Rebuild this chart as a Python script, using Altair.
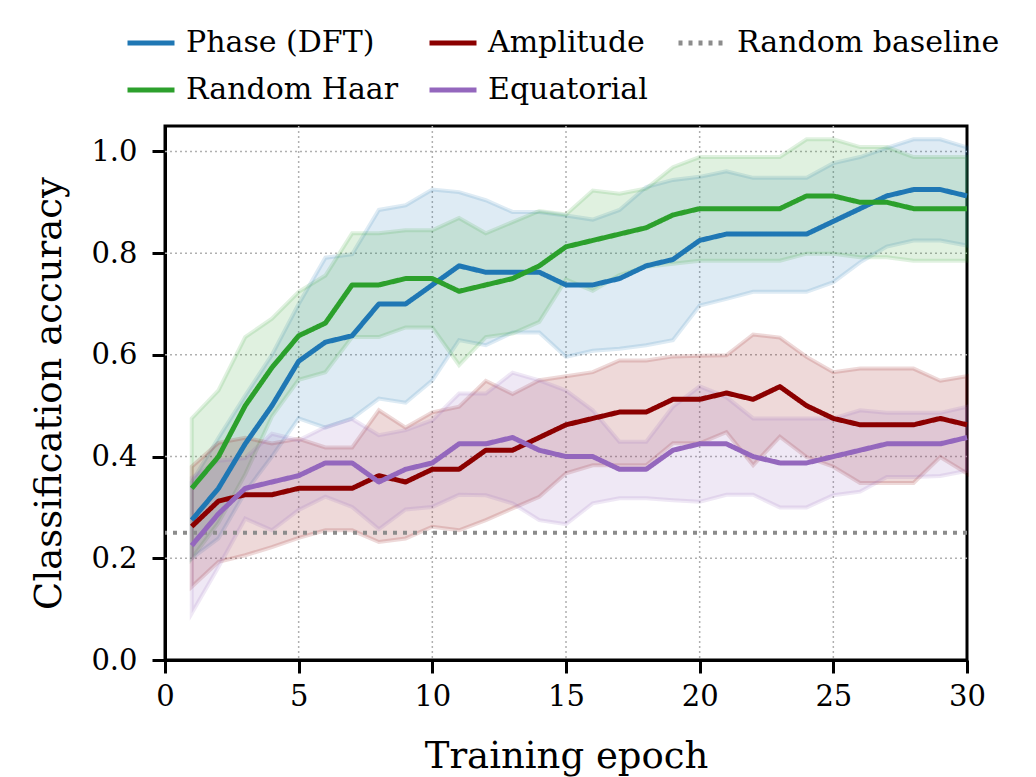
import altair as alt
import pandas as pd

# Training curves: mean accuracy per epoch with the lower/upper edge of the spread band
epochs = list(range(1, 31))

phase_mean = [0.275, 0.3375, 0.425, 0.5, 0.5875, 0.625, 0.6375, 0.7, 0.7, 0.7375,
              0.775, 0.7625, 0.7625, 0.7625, 0.7375, 0.7375, 0.75, 0.775, 0.7875, 0.825,
              0.8375, 0.8375, 0.8375, 0.8375, 0.8625, 0.8875, 0.9125, 0.925, 0.925, 0.9125]
phase_lo = [0.20, 0.239, 0.33, 0.40, 0.475, 0.457, 0.475, 0.514, 0.506, 0.55,
            0.629, 0.619, 0.644, 0.644, 0.596, 0.608, 0.612, 0.619, 0.629, 0.697,
            0.71, 0.724, 0.724, 0.724, 0.743, 0.782, 0.813, 0.825, 0.825, 0.815]
phase_hi = [0.35, 0.437, 0.52, 0.60, 0.70, 0.791, 0.798, 0.885, 0.894, 0.925,
            0.92, 0.904, 0.881, 0.881, 0.874, 0.866, 0.885, 0.93, 0.944, 0.95,
            0.961, 0.948, 0.948, 0.948, 0.977, 0.989, 1.007, 1.024, 1.024, 1.008]

haar_mean = [0.3375, 0.4, 0.5, 0.575, 0.6375, 0.6625, 0.7375, 0.7375, 0.75, 0.75,
             0.725, 0.7375, 0.75, 0.775, 0.8125, 0.825, 0.8375, 0.85, 0.875, 0.8875,
             0.8875, 0.8875, 0.8875, 0.9125, 0.9125, 0.9, 0.9, 0.8875, 0.8875, 0.8875]
haar_lo = [0.2, 0.27, 0.365, 0.479, 0.551, 0.566, 0.635, 0.635, 0.654, 0.654,
           0.58, 0.635, 0.642, 0.665, 0.748, 0.726, 0.757, 0.773, 0.779, 0.785,
           0.785, 0.785, 0.785, 0.799, 0.799, 0.792, 0.792, 0.785, 0.785, 0.785]
haar_hi = [0.475, 0.53, 0.635, 0.671, 0.724, 0.756, 0.839, 0.839, 0.845, 0.845,
           0.869, 0.839, 0.861, 0.883, 0.876, 0.923, 0.917, 0.927, 0.969, 0.989,
           0.989, 0.989, 0.989, 1.024, 1.024, 1.0085, 1.0085, 0.989, 0.989, 0.989]

amp_mean = [0.2625, 0.3125, 0.325, 0.325, 0.3375, 0.3375, 0.3375, 0.3625, 0.35, 0.375,
            0.375, 0.4125, 0.4125, 0.4375, 0.4625, 0.475, 0.4875, 0.4875, 0.5125, 0.5125,
            0.525, 0.5125, 0.5375, 0.5, 0.475, 0.4625, 0.4625, 0.4625, 0.475, 0.4625]
amp_lo = [0.144, 0.193, 0.206, 0.222, 0.24, 0.255, 0.255, 0.232, 0.239, 0.262,
          0.255, 0.275, 0.298, 0.321, 0.367, 0.383, 0.383, 0.383, 0.426, 0.426,
          0.448, 0.383, 0.439, 0.399, 0.38, 0.348, 0.348, 0.348, 0.399, 0.367]
amp_hi = [0.38, 0.427, 0.437, 0.426, 0.435, 0.418, 0.418, 0.491, 0.457, 0.487,
          0.498, 0.549, 0.523, 0.55, 0.558, 0.566, 0.589, 0.589, 0.597, 0.598,
          0.599, 0.64, 0.634, 0.596, 0.566, 0.573, 0.573, 0.573, 0.549, 0.558]

equ_mean = [0.225, 0.2875, 0.3375, 0.35, 0.3625, 0.3875, 0.3875, 0.35, 0.375, 0.3875,
            0.425, 0.425, 0.4375, 0.4125, 0.4, 0.4, 0.375, 0.375, 0.4125, 0.425,
            0.425, 0.4, 0.3875, 0.3875, 0.4, 0.4125, 0.425, 0.425, 0.425, 0.4375]
equ_lo = [0.092, 0.183, 0.278, 0.255, 0.295, 0.321, 0.301, 0.257, 0.296, 0.301,
          0.325, 0.324, 0.308, 0.275, 0.267, 0.308, 0.318, 0.318, 0.314, 0.311,
          0.325, 0.325, 0.3, 0.3, 0.324, 0.331, 0.36, 0.36, 0.362, 0.372]
equ_hi = [0.358, 0.392, 0.397, 0.445, 0.432, 0.458, 0.474, 0.442, 0.452, 0.4715,
          0.524, 0.524, 0.565, 0.55, 0.53, 0.491, 0.429, 0.429, 0.498, 0.538,
          0.517, 0.475, 0.475, 0.475, 0.475, 0.491, 0.486, 0.486, 0.486, 0.498]

baseline_acc = 0.25

x_ticks = [0, 5, 10, 15, 20, 25, 30]
y_ticks = [0.0, 0.2, 0.4, 0.6, 0.8, 1.0]

series_names = ["Phase (DFT)", "Amplitude", "Random baseline", "Random Haar", "Equatorial"]
series_colors = ["#1f77b4", "#8b0000", "#8c8c8c", "#2ca02c", "#9467bd"]
series_dashes = [[1, 0], [1, 0], [4, 6], [1, 0], [1, 0]]
color_of = dict(zip(series_names, series_colors))

curves = [
    ("Phase (DFT)", phase_mean, phase_lo, phase_hi),
    ("Random Haar", haar_mean, haar_lo, haar_hi),
    ("Amplitude", amp_mean, amp_lo, amp_hi),
    ("Equatorial", equ_mean, equ_lo, equ_hi),
]

frames = {}
for name, mean, lo, hi in curves:
    frames[name] = pd.DataFrame(
        {"series": name, "epoch": epochs, "acc": mean, "lo": lo, "hi": hi}
    )
df = pd.concat(frames.values(), ignore_index=True)
base_df = pd.DataFrame({"series": ["Random baseline"], "acc": [baseline_acc]})

FONT = "DejaVu Serif"
GRID_COLOR = "#b0b0b0"

x_scale = alt.Scale(domain=[0, 30], nice=False, zero=False)
y_scale = alt.Scale(domain=[0, 1.05], nice=False)
x_axis = alt.Axis(values=x_ticks, title="Training epoch")
y_axis = alt.Axis(values=y_ticks, format=".1f", title="Classification accuracy")
x_enc = alt.X("epoch:Q", scale=x_scale, axis=x_axis)

color_scale = alt.Scale(domain=series_names, range=series_colors)
dash_scale = alt.Scale(domain=series_names, range=series_dashes)

legend = alt.Legend(
    title=None,
    orient="none",
    legendX=-40,
    legendY=-109,
    direction="horizontal",
    columns=3,
    symbolType="stroke",
    symbolSize=2209,
    symbolStrokeWidth=5,
    labelFont=FONT,
    labelFontSize=30,
    labelColor="black",
    labelLimit=500,
    labelOffset=9,
    columnPadding=20,
    rowPadding=6,
    padding=0,
)

# interior dotted grid lines at the tick positions (the frame covers the outer ones)
x_grid = alt.Chart(pd.DataFrame({"epoch": x_ticks[1:-1]})).mark_rule(
    color=GRID_COLOR, strokeDash=[2, 3], strokeWidth=1.5
).encode(x=x_enc)
y_grid = alt.Chart(pd.DataFrame({"acc": y_ticks[1:]})).mark_rule(
    color=GRID_COLOR, strokeDash=[2, 3], strokeWidth=1.5
).encode(y=alt.Y("acc:Q", scale=y_scale, axis=y_axis))

# one shaded spread band per method, each in its own colour
bands = [
    alt.Chart(frames[name]).mark_area(
        fill=color_of[name], stroke=color_of[name],
        fillOpacity=0.15, strokeOpacity=0.15, strokeWidth=4,
    ).encode(
        x=x_enc,
        y=alt.Y("lo:Q", scale=y_scale, axis=y_axis),
        y2="hi:Q",
    )
    for name, _, _, _ in curves
]

lines = alt.Chart(df).mark_line(strokeWidth=5, strokeJoin="round").encode(
    x=x_enc,
    y=alt.Y("acc:Q", scale=y_scale, axis=y_axis),
    color=alt.Color("series:N", scale=color_scale, legend=legend),
    strokeDash=alt.StrokeDash("series:N", scale=dash_scale, legend=legend),
    order="epoch:Q",
)

baseline = alt.Chart(base_df).mark_rule(strokeWidth=4).encode(
    y=alt.Y("acc:Q", scale=y_scale, axis=y_axis),
    color=alt.Color("series:N", scale=color_scale, legend=legend),
    strokeDash=alt.StrokeDash("series:N", scale=dash_scale, legend=legend),
)

chart = (
    alt.layer(x_grid, y_grid, *bands, baseline, lines)
    .properties(
        width=802,
        height=534,
        autosize=alt.AutoSizeParams(type="none"),
        padding={"left": 165, "top": 126, "right": 69, "bottom": 117},
        background="white",
    )
    .configure(font=FONT, style={"guide-label": {"font": FONT}, "guide-title": {"font": FONT}})
    .configure_view(stroke="black", strokeWidth=3)
    .configure_legend(labelFont=FONT, labelFontSize=30, labelLimit=500, labelColor="black")
    .configure_axis(
        labelFont=FONT,
        labelFontSize=29,
        labelColor="black",
        titleFont=FONT,
        titleFontSize=37,
        titleFontWeight="normal",
        titleColor="black",
        domainColor="black",
        domainWidth=3,
        tickColor="black",
        tickWidth=3,
        tickSize=13,
        grid=False,
    )
    .configure_axisX(titlePadding=27, labelPadding=9, labelFlush=False)
    .configure_axisY(titlePadding=22, labelPadding=15)
)

chart.save("out.html", embed_options={"renderer": "svg", "actions": False})
